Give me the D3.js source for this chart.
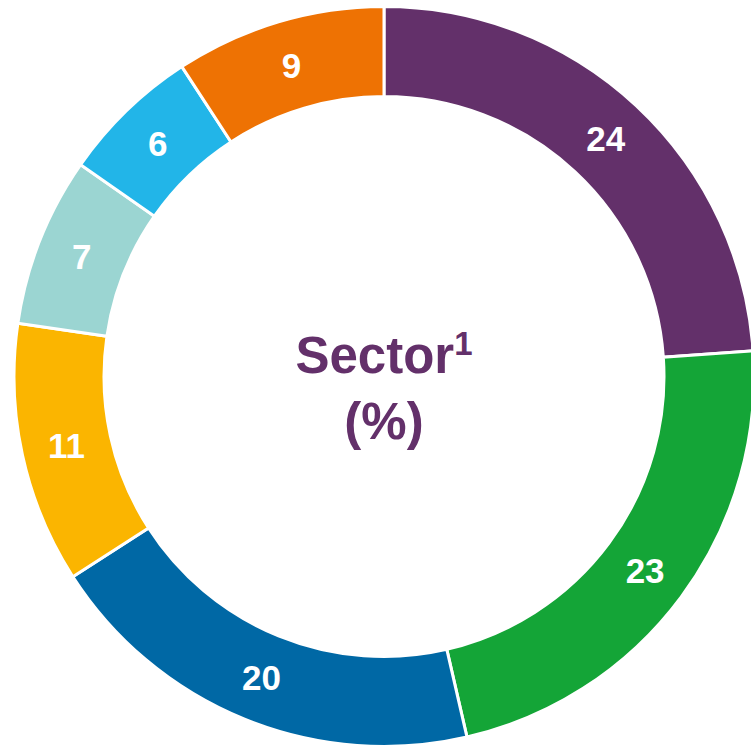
<!DOCTYPE html>
<html>
<head>
<meta charset="utf-8">
<script src="https://cdn.jsdelivr.net/npm/d3@7"></script>
<style>
  html, body { margin: 0; padding: 0; background: #fff; }
  svg { display: block; }
</style>
</head>
<body>
<div id="chart"></div>
<script>
const sectors = ['A', 'B', 'C', 'D', 'E', 'F', 'G'];
// shares; labels are the rounded figures printed on the chart
const values = [23.9, 22.5, 19.5, 11.4, 7.4, 6.1, 9.2];
const labels = ['24', '23', '20', '11', '7', '6', '9'];
const colors = ['#63306a', '#14a537', '#0068a5', '#fbb500', '#9bd5d2', '#22b5e8', '#ee7203'];

const width = 751;
const height = 748;
const cx = 384, cy = 376.5;
const outerR = 370, innerR = 280;

const svg = d3.select('#chart')
  .append('svg')
  .attr('width', width)
  .attr('height', height);

const g = svg.append('g')
  .attr('transform', `translate(${cx},${cy})`);

const pie = d3.pie()
  .sort(null)
  .value(d => d.value);

const data = sectors.map((s, i) => ({ name: s, value: values[i], label: labels[i], color: colors[i] }));
const arcs = pie(data);

const arc = d3.arc()
  .innerRadius(innerR)
  .outerRadius(outerR);

const labelArc = d3.arc()
  .innerRadius((innerR + outerR) / 2)
  .outerRadius((innerR + outerR) / 2);

g.selectAll('path.slice')
  .data(arcs)
  .join('path')
  .attr('class', 'slice')
  .attr('d', arc)
  .attr('fill', d => d.data.color)
  .attr('stroke', '#fff')
  .attr('stroke-width', 3);

g.selectAll('text.label')
  .data(arcs)
  .join('text')
  .attr('class', 'label')
  .attr('transform', d => `translate(${labelArc.centroid(d)})`)
  .attr('text-anchor', 'middle')
  .attr('dy', '0.36em')
  .attr('fill', '#fff')
  .attr('font-family', 'Liberation Sans, Arial, sans-serif')
  .attr('font-weight', 'bold')
  .attr('font-size', 35)
  .text(d => d.data.label);

// центр
const title = g.append('text')
  .attr('text-anchor', 'middle')
  .attr('fill', '#63306a')
  .attr('font-family', 'Liberation Sans, Arial, sans-serif')
  .attr('font-weight', 'bold')
  .attr('font-size', 51);

const line1 = title.append('tspan')
  .attr('x', 0)
  .attr('y', -3.5)
  .text('Sector');
line1.append('tspan')
  .attr('font-size', 33)
  .attr('dy', -18)
  .text('1');

title.append('tspan')
  .attr('x', 0)
  .attr('y', 62)
  .text('(%)');
</script>
</body>
</html>
